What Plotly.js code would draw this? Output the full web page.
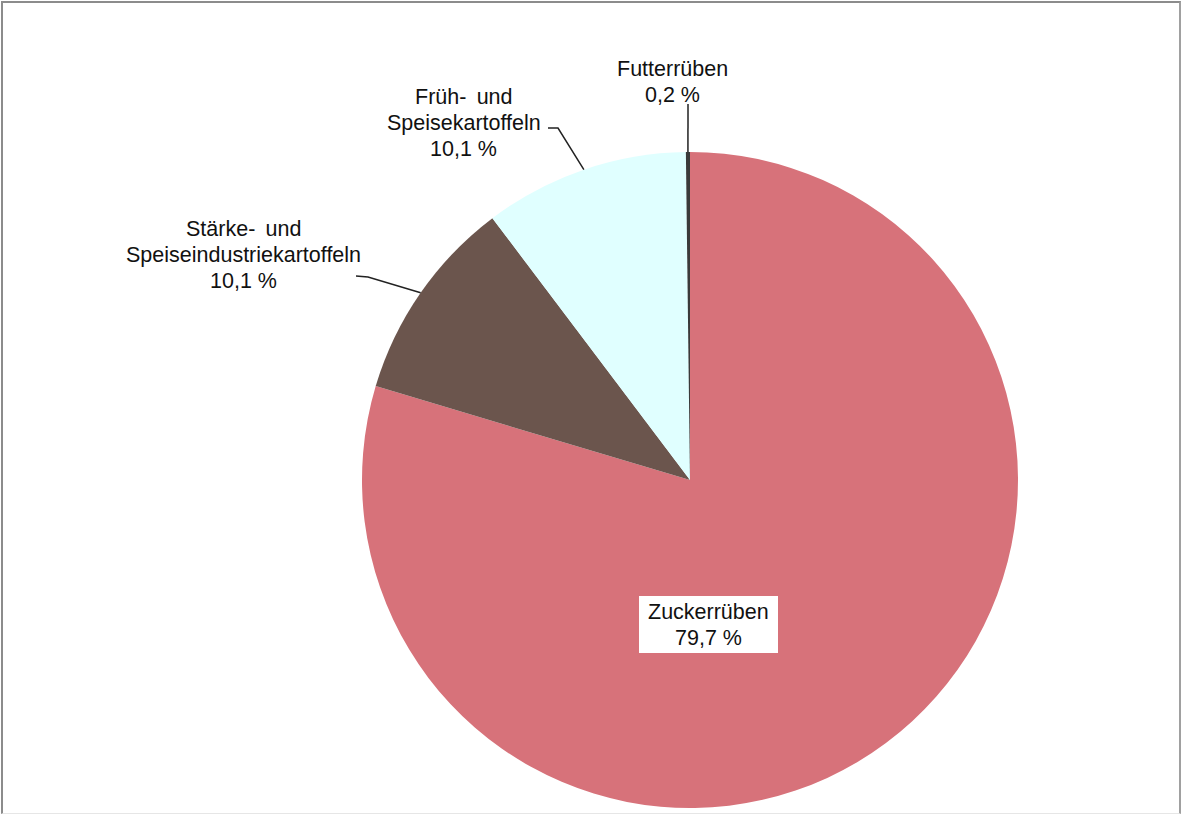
<!DOCTYPE html>
<html>
<head>
<meta charset="utf-8">
<script src="https://cdn.plot.ly/plotly-3.0.1.min.js"></script>
<style>
  html, body { margin: 0; padding: 0; background: #fff; }
  #wrap { position: relative; width: 1181px; height: 814px; overflow: hidden; }
  #chart { position: absolute; left: 0; top: 0; width: 1181px; height: 814px; }
  #frame { position: absolute; left: 1px; top: 1px; width: 1176px; height: 810px;
           border-top: 2px solid #8c8c8c; border-left: 2px solid #8c8c8c;
           border-right: 2px solid #a0a0a0; border-bottom: 1px solid #e6e6e6;
           pointer-events: none; }
</style>
</head>
<body>
<div id="wrap">
  <div id="chart"></div>
  <div id="frame"></div>
</div>
<script>
// ---- data ----
const categories = ["Zuckerrüben", "Stärke- und Speiseindustriekartoffeln", "Früh- und Speisekartoffeln", "Futterrüben"];
const labelLines = [["Zuckerrüben"], ["Stärke-\u2009 und", "Speiseindustriekartoffeln"], ["Früh-\u2009 und", "Speisekartoffeln"], ["Futterrüben"]];
const shares = [79.7, 10.1, 10.1, 0.2];
const valueLabels = ["79,7 %", "10,1 %", "10,1 %", "0,2 %"];
const colors = ["#d7727a", "#6b554d", "#e0ffff", "#3a3a3a"];

const W = 1181, H = 814;
const CX = 690, CY = 480, R = 328;
const px = x => x / W;
const py = y => 1 - y / H;

// edge anchor of each slice at its middle angle (clockwise from 12 o'clock)
const total = shares.reduce((a, b) => a + b, 0);
let cum = 0;
const anchors = shares.map(v => {
  const mid = (cum + v / 2) / total;
  cum += v;
  const a = mid * 2 * Math.PI;
  return [CX + R * Math.sin(a), CY - R * Math.cos(a)];
});

const trace = {
  type: "pie",
  labels: categories,
  values: shares,
  sort: false,
  direction: "clockwise",
  rotation: 0,
  marker: { colors: colors, line: { width: 0 } },
  textinfo: "none",
  hoverinfo: "skip",
  showlegend: false,
  domain: { x: [px(CX - R), px(CX + R)], y: [py(CY + R), py(CY - R)] }
};

const font = { family: "Liberation Sans, Arial, sans-serif", size: 21.5, color: "#111" };

// label centre x and first line y (pixels), line step
const labelPos = [[708, 612], [243, 229], [464, 97], [672, 69]];
const STEP = 25.8;
const elbows = [null, [[368, 277], [356, 276]], [[558, 128], [548, 128]], [[688, 104]]];

const annotations = [];
categories.forEach((c, i) => {
  const lines = labelLines[i].concat([valueLabels[i]]);
  lines.forEach((t, k) => {
    annotations.push({
      xref: "paper", yref: "paper",
      x: px(labelPos[i][0]), y: py(labelPos[i][1] + k * STEP),
      xanchor: "center", yanchor: "middle",
      text: t, showarrow: false, font: font
    });
  });
});

const shapes = [
  { type: "rect", xref: "paper", yref: "paper", layer: "above",
    x0: px(639), x1: px(778), y0: py(653), y1: py(596),
    fillcolor: "#ffffff", line: { width: 0 } }
];
elbows.forEach((e, i) => {
  if (!e) return;
  const pts = [anchors[i]].concat(e);
  let d = "M " + px(pts[0][0]) + "," + py(pts[0][1]);
  for (let k = 1; k < pts.length; k++) d += " L " + px(pts[k][0]) + "," + py(pts[k][1]);
  shapes.push({ type: "path", xref: "paper", yref: "paper", path: d,
                line: { color: "#222", width: 1.5 } });
});

const layout = {
  width: W, height: H,
  margin: { l: 0, r: 0, t: 0, b: 0 },
  paper_bgcolor: "#ffffff",
  annotations: annotations,
  shapes: shapes
};

Plotly.newPlot("chart", [trace], layout, { displayModeBar: false, staticPlot: true });
</script>
</body>
</html>
